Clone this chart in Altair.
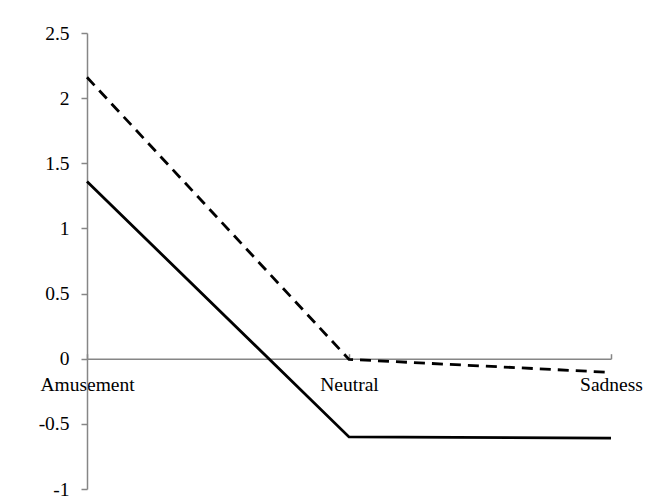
import altair as alt
import pandas as pd

categories = ["Amusement", "Neutral", "Sadness"]
solid_values = [1.36, -0.60, -0.61]
dashed_values = [2.16, -0.005, -0.105]
y_ticks = [-1, -0.5, 0, 0.5, 1, 1.5, 2, 2.5]

df_solid = pd.DataFrame({"category": categories, "value": solid_values})
df_dashed = pd.DataFrame({"category": categories, "value": dashed_values})

GRAY = "#868686"
FONT = "Liberation Serif"
FS = 19.5

yenc = alt.Y(
    "value:Q",
    scale=alt.Scale(domain=[-1, 2.5], nice=False, zero=False),
    axis=alt.Axis(
        values=y_ticks,
        labelExpr="toString(datum.value)",
        title=None,
        grid=False,
        domainColor=GRAY,
        domainWidth=1.5,
        tickColor=GRAY,
        tickWidth=1.5,
        tickSize=6,
        labelPadding=12,
        labelFont=FONT,
        labelFontSize=FS,
        labelColor="black",
    ),
)

xscale = alt.Scale(type="point", padding=0, domain=categories)

solid = alt.Chart(df_solid).mark_line(color="black", strokeWidth=2.8).encode(
    x=alt.X(
        "category:N",
        scale=xscale,
        sort=categories,
        axis=alt.Axis(
            orient="bottom",
            offset=-130.3,
            title=None,
            grid=False,
            ticks=False,
            domainColor=GRAY,
            domainWidth=1.5,
            labelAngle=0,
            labelPadding=17,
            labelFont=FONT,
            labelFontSize=FS,
            labelColor="black",
        ),
    ),
    y=yenc,
)

dashed = alt.Chart(df_dashed).mark_line(
    color="black", strokeWidth=2.8, strokeDash=[11, 7]
).encode(
    x=alt.X(
        "category:N",
        scale=xscale,
        sort=categories,
        axis=alt.Axis(
            orient="top",
            offset=-325.7,
            title=None,
            grid=False,
            domain=False,
            labels=False,
            ticks=True,
            tickSize=5,
            tickColor=GRAY,
            tickWidth=1.5,
        ),
    ),
    y=yenc,
)

chart = (
    alt.layer(dashed, solid)
    .resolve_axis(x="independent")
    .properties(
        width=524,
        height=456,
        autosize=alt.AutoSizeParams(type="none"),
        padding={"left": 79, "top": 25, "right": 36, "bottom": 12},
        background="white",
    )
    .configure_view(strokeWidth=0)
)

chart.save("out.html", embed_options={"renderer": "svg", "actions": False})
